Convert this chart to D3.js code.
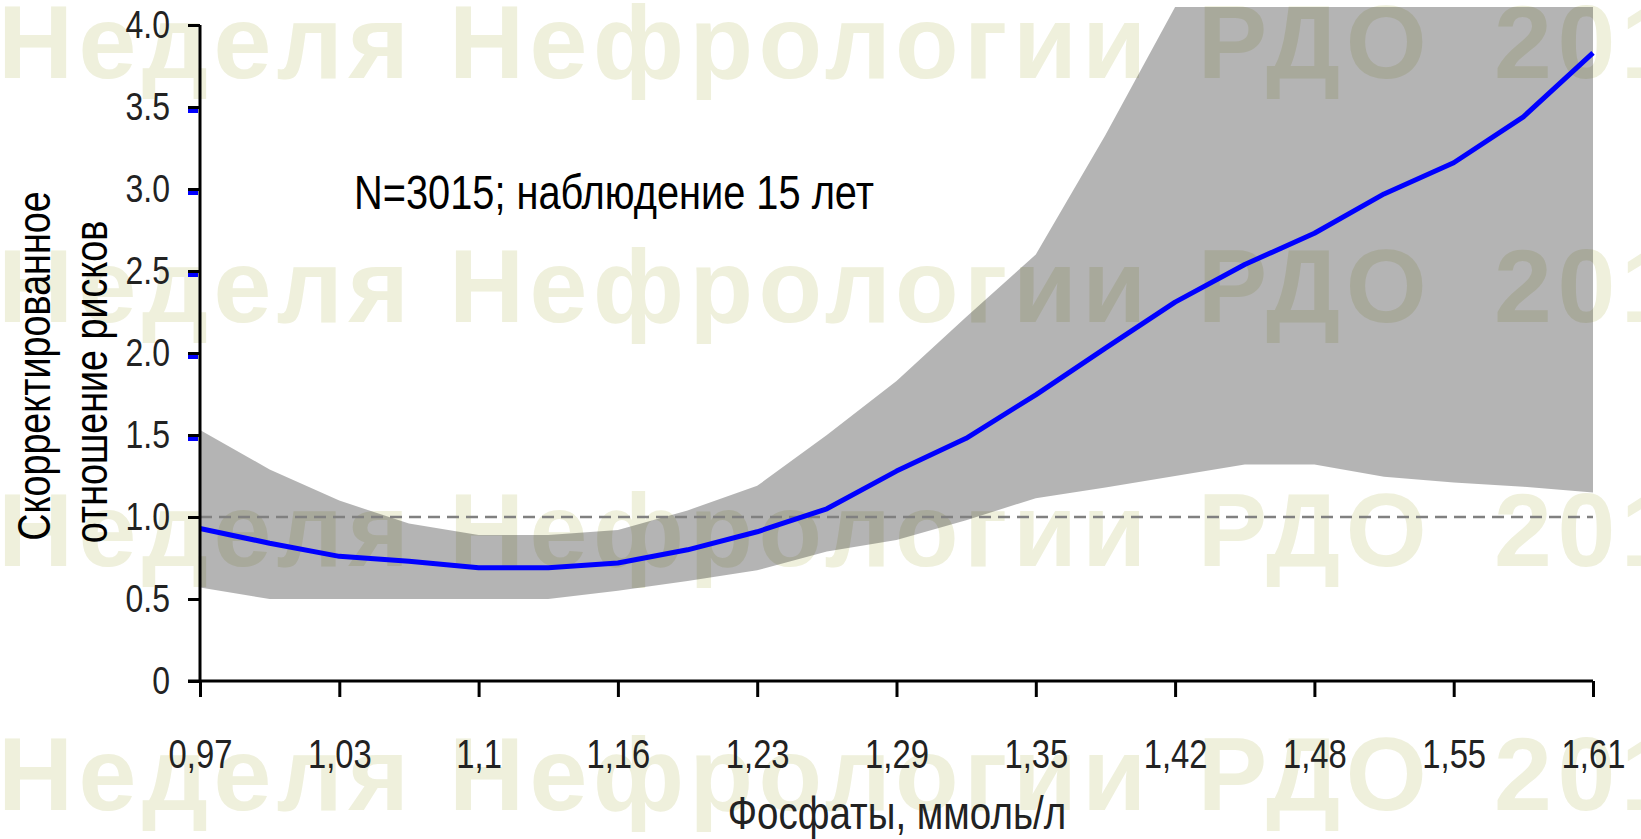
<!DOCTYPE html>
<html>
<head>
<meta charset="utf-8">
<script src="https://cdn.jsdelivr.net/npm/d3@7"></script>
<style>
  html, body { margin: 0; padding: 0; background: #fff; }
  svg { display: block; }
</style>
</head>
<body>
<svg id="chart" width="1641" height="839"></svg>
<script>
// ---- data ----
const phosphate = [0.970, 1.002, 1.034, 1.066, 1.098, 1.130, 1.162, 1.194, 1.226, 1.258, 1.290,
                   1.322, 1.354, 1.386, 1.418, 1.450, 1.482, 1.514, 1.546, 1.578, 1.610];
const hazardRatio = [0.93, 0.84, 0.76, 0.73, 0.69, 0.69, 0.72, 0.80, 0.91, 1.05, 1.28,
                     1.48, 1.745, 2.03, 2.31, 2.54, 2.73, 2.97, 3.16, 3.44, 3.83];
const ciUpper = [1.53, 1.29, 1.10, 0.96, 0.89, 0.89, 0.92, 1.04, 1.19, 1.50, 1.83,
                 2.22, 2.60, 3.33, 4.11, 4.11, 4.11, 4.11, 4.11, 4.11, 4.11];
const ciLower = [0.57, 0.50, 0.50, 0.50, 0.50, 0.50, 0.55, 0.61, 0.675, 0.79, 0.86,
                 0.98, 1.115, 1.18, 1.25, 1.32, 1.32, 1.245, 1.21, 1.185, 1.15];
const xTickValues = [0.97, 1.034, 1.098, 1.162, 1.226, 1.29, 1.354, 1.418, 1.482, 1.546, 1.61];
const xTickLabels = ["0,97", "1,03", "1,1", "1,16", "1,23", "1,29", "1,35", "1,42", "1,48", "1,55", "1,61"];
const yTickValues = [0, 0.5, 1.0, 1.5, 2.0, 2.5, 3.0, 3.5, 4.0];
const yTickLabels = ["0", "0.5", "1.0", "1.5", "2.0", "2.5", "3.0", "3.5", "4.0"];
const blueTickValues = [1.5, 2.0, 2.5, 3.0, 3.5];
const referenceValue = 1.0;
const watermarkParts = ["Неделя Нефрологии", "РДО", "2017"];
const watermarkRows = [0, 1, 2, 3];
const annotation = "N=3015; наблюдение 15 лет";
const xTitle = "Фосфаты, ммоль/л";
const yTitleLines = ["Скорректированное", "отношение рисков"];

// ---- layout ----
const NARROW = 0.82;             // horizontal squeeze to imitate Arial Narrow
const FONT = "'Liberation Sans', Arial, sans-serif";
const svg = d3.select("#chart");
const x = d3.scaleLinear().domain([0.97, 1.61]).range([200, 1593]);
const y = d3.scaleLinear().domain([0, 4]).range([681, 25]);

// watermark (under band)
const wmGap = [0, 46, 62];
const wmText = svg.append("g").selectAll("text").data(watermarkRows).join("text")
  .attr("x", -2)
  .attr("y", d => 78 + d * 244)
  .attr("font-family", FONT)
  .attr("font-weight", "bold")
  .attr("font-size", 104)
  .attr("letter-spacing", 5.5)
  .attr("fill", "#eff0dc");
wmText.selectAll("tspan").data(watermarkParts).join("tspan")
  .attr("dx", (d, i) => wmGap[i])
  .text(d => d);

// confidence band
const area = d3.area()
  .x((d, i) => x(phosphate[i]))
  .y0((d, i) => y(ciLower[i]))
  .y1((d, i) => y(ciUpper[i]));
svg.append("path")
  .datum(phosphate)
  .attr("d", area)
  .attr("fill", "#000")
  .attr("fill-opacity", 0.294);

// reference dashed line
svg.append("line")
  .attr("x1", x(0.97)).attr("x2", x(1.61))
  .attr("y1", y(referenceValue)).attr("y2", y(referenceValue))
  .attr("stroke", "#808080")
  .attr("stroke-width", 2.6)
  .attr("stroke-dasharray", "12,7");

// main line
const line = d3.line()
  .x((d, i) => x(phosphate[i]))
  .y((d, i) => y(hazardRatio[i]));
svg.append("path")
  .datum(hazardRatio)
  .attr("d", line)
  .attr("fill", "none")
  .attr("stroke", "#0000ff")
  .attr("stroke-width", 5)
  .attr("stroke-linejoin", "round");

// y axis
const yAxis = d3.axisLeft(y)
  .tickValues(yTickValues)
  .tickFormat((d, i) => yTickLabels[i])
  .tickSize(12)
  .tickPadding(18);
const gy = svg.append("g").attr("transform", "translate(200,0)").call(yAxis);
gy.select(".domain").attr("stroke", "#000").attr("stroke-width", 3).attr("d", `M0,${y(4)}V${y(0)}`);
gy.selectAll(".tick line").attr("stroke", "#000").attr("stroke-width", 3);
gy.selectAll(".tick text")
  .attr("font-family", FONT).attr("font-size", 39).attr("fill", "#222")
  .attr("x", -30 / NARROW)
  .attr("transform", `scale(${NARROW},1)`);
gy.selectAll(".bluetick").data(blueTickValues).join("rect")
  .attr("class", "bluetick")
  .attr("x", -12).attr("width", 10)
  .attr("y", d => y(d) + 2).attr("height", 4)
  .attr("fill", "#0000ff");

// x axis
const xAxis = d3.axisBottom(x)
  .tickValues(xTickValues)
  .tickFormat((d, i) => xTickLabels[i])
  .tickSize(16)
  .tickPadding(43);
const gx = svg.append("g").attr("transform", `translate(0,${y(0)})`).call(xAxis);
gx.select(".domain").attr("stroke", "#000").attr("stroke-width", 3).attr("d", `M188,0H${x(1.61)}`);
gx.selectAll(".tick line").attr("stroke", "#000").attr("stroke-width", 3);
gx.selectAll(".tick text")
  .attr("font-family", FONT).attr("font-size", 40).attr("fill", "#222")
  .attr("transform", `scale(${NARROW},1)`);

// annotation
svg.append("text")
  .attr("font-family", FONT)
  .attr("transform", `translate(354,209) scale(${NARROW},1)`)
  .attr("font-size", 48.5)
  .attr("fill", "#000")
  .text(annotation);

// x title
svg.append("text")
  .attr("font-family", FONT)
  .attr("transform", `translate(897,829) scale(${NARROW},1)`)
  .attr("text-anchor", "middle")
  .attr("font-size", 47)
  .attr("fill", "#222")
  .text(xTitle);

// y title
svg.selectAll(".ytitle").data(yTitleLines).join("text")
  .attr("class", "ytitle")
  .attr("font-family", FONT)
  .attr("text-anchor", "middle")
  .attr("font-size", 46)
  .attr("fill", "#000")
  .attr("transform", (d, i) => `translate(${i === 0 ? 50 : 107},${i === 0 ? 366 : 382}) rotate(-90) scale(${NARROW},1)`)
  .text(d => d);
</script>
</body>
</html>
